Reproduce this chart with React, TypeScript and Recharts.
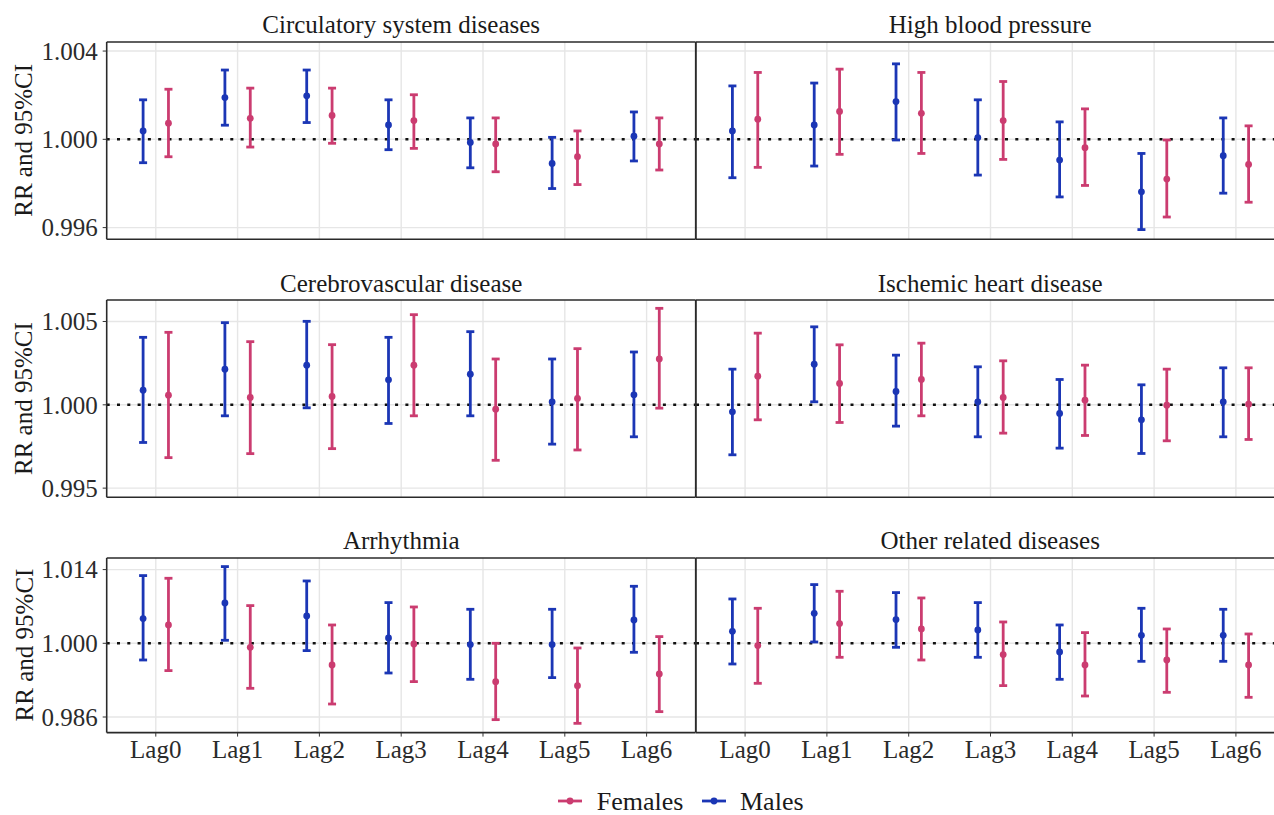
import React from 'react';
import {
  ScatterChart, Scatter, XAxis, YAxis, CartesianGrid,
  ErrorBar, ReferenceLine,
} from 'recharts';

// [RR, lower 95%CI, upper 95%CI] per lag
type Triple = [number, number, number];

const LAGS = ['Lag0', 'Lag1', 'Lag2', 'Lag3', 'Lag4', 'Lag5', 'Lag6'];

const circulatoryMales: Triple[] = [
  [1.00038, 0.99894, 1.00179],
  [1.00189, 1.00064, 1.00314],
  [1.00197, 1.00076, 1.00314],
  [1.00065, 0.99953, 1.00179],
  [0.99986, 0.99871, 1.00097],
  [0.99891, 0.99777, 1.00009],
  [1.00014, 0.99902, 1.00124],
];
const circulatoryFemales: Triple[] = [
  [1.00073, 0.99921, 1.00227],
  [1.00095, 0.99965, 1.00232],
  [1.00108, 0.99982, 1.00232],
  [1.00085, 0.99959, 1.00202],
  [0.99979, 0.99853, 1.00097],
  [0.99921, 0.99795, 1.00038],
  [0.99979, 0.99861, 1.00097],
];
const hbpMales: Triple[] = [
  [1.00038, 0.99826, 1.00242],
  [1.00065, 0.99879, 1.00255],
  [1.00171, 0.99997, 1.00342],
  [1.00008, 0.99838, 1.00179],
  [0.99906, 0.99739, 1.00079],
  [0.99762, 0.99591, 0.99936],
  [0.99926, 0.99756, 1.00097],
];
const hbpFemales: Triple[] = [
  [1.00091, 0.99873, 1.00303],
  [1.00126, 0.99932, 1.00318],
  [1.00118, 0.99936, 1.00303],
  [1.00085, 0.99909, 1.00262],
  [0.99962, 0.99791, 1.00138],
  [0.9982, 0.99648, 0.99997],
  [0.99886, 0.99715, 1.00061],
];
const cerebroMales: Triple[] = [
  [1.00088, 0.99774, 1.00405],
  [1.00214, 0.99934, 1.00493],
  [1.00238, 0.99982, 1.00501],
  [1.0015, 0.99888, 1.00405],
  [1.00184, 0.99934, 1.00439],
  [1.00018, 0.99764, 1.00275],
  [1.0006, 0.99808, 1.00317],
];
const cerebroFemales: Triple[] = [
  [1.00058, 0.99683, 1.00435],
  [1.00044, 0.99707, 1.00379],
  [1.0005, 0.99737, 1.00361],
  [1.00238, 0.99934, 1.00541],
  [0.99974, 0.99667, 1.00275],
  [1.00038, 0.99729, 1.00337],
  [1.00275, 0.9998, 1.00579],
];
const ischemicMales: Triple[] = [
  [0.99958, 0.997, 1.00214],
  [1.00244, 1.00018, 1.00468],
  [1.0008, 0.99872, 1.00298],
  [1.00018, 0.99808, 1.00228],
  [0.99948, 0.9974, 1.00152],
  [0.9991, 0.99708, 1.0012],
  [1.00018, 0.99808, 1.00222],
];
const ischemicFemales: Triple[] = [
  [1.00172, 0.9991, 1.0043],
  [1.00128, 0.99894, 1.0036],
  [1.00152, 0.99934, 1.0037],
  [1.00044, 0.9983, 1.00264],
  [1.00028, 0.99816, 1.00238],
  [0.99998, 0.99784, 1.00214],
  [1.00004, 0.99792, 1.00222],
];
const arrhythmiaMales: Triple[] = [
  [1.00469, 0.99683, 1.01286],
  [1.00766, 1.00057, 1.01457],
  [1.00519, 0.99861, 1.01184],
  [1.00101, 0.99436, 1.00773],
  [0.99975, 0.99316, 1.00646],
  [0.99975, 0.99348, 1.00646],
  [1.00443, 0.99829, 1.01083],
];
const arrhythmiaFemales: Triple[] = [
  [1.00348, 0.99481, 1.01235],
  [0.99924, 0.99145, 1.00716],
  [0.99588, 0.98847, 1.00348],
  [0.99987, 0.99272, 1.0069],
  [0.99272, 0.9855, 1.0],
  [0.99196, 0.9848, 0.99911],
  [0.99417, 0.98702, 1.00127],
];
const otherMales: Triple[] = [
  [1.00228, 0.99607, 1.00842],
  [1.0057, 1.00025, 1.01115],
  [1.0045, 0.99924, 1.00963],
  [1.00253, 0.99734, 1.00773],
  [0.99835, 0.99316, 1.00348],
  [1.00152, 0.99658, 1.00665],
  [1.00152, 0.99658, 1.00646],
];
const otherFemales: Triple[] = [
  [0.99956, 0.9924, 1.00665],
  [1.00374, 0.99734, 1.00988],
  [1.00272, 0.99683, 1.00861],
  [0.99785, 0.99196, 1.00405],
  [0.99588, 0.98999, 1.00203],
  [0.99683, 0.99069, 1.00272],
  [0.99588, 0.98974, 1.00177],
];

const rowTicks = [
  [0.996, 1.0, 1.004],
  [0.995, 1.0, 1.005],
  [0.986, 1.0, 1.014],
];
const rowDomains: [number, number][] = [
  [0.99547, 1.00441],
  [0.99445, 1.00629],
  [0.98304, 1.0162],
];

const MALE = '#1b36b5';
const FEMALE = '#cb3c70';
const FONT = 'Liberation Serif, Times New Roman, Times, serif';

// layout (page pixels)
const PAGE_W = 1274;
const PLOT_LEFT = 106.7;
const PANEL_W = 589;
const ROW_TOP = [41.7, 300, 557.7];
const ROW_H = [197.3, 197.3, 174.6];
const X_AXIS_H = 44;
const PAD = 16; // room for the end tick labels
const DODGE = 0.155;

const panels = [
  { title: 'Circulatory system diseases', row: 0, col: 0, males: circulatoryMales, females: circulatoryFemales },
  { title: 'High blood pressure', row: 0, col: 1, males: hbpMales, females: hbpFemales },
  { title: 'Cerebrovascular disease', row: 1, col: 0, males: cerebroMales, females: cerebroFemales },
  { title: 'Ischemic heart disease', row: 1, col: 1, males: ischemicMales, females: ischemicFemales },
  { title: 'Arrhythmia', row: 2, col: 0, males: arrhythmiaMales, females: arrhythmiaFemales },
  { title: 'Other related diseases', row: 2, col: 1, males: otherMales, females: otherFemales },
];

const toPoints = (rows: Triple[], shift: number) =>
  rows.map((r, i) => ({ x: i + shift, y: r[0], err: [r[0] - r[1], r[2] - r[0]] }));

const dot = (color: string) => (p: any) => <circle cx={p.cx} cy={p.cy} r={3.4} fill={color} />;

function Panel({ p }: { p: typeof panels[number] }) {
  const showY = p.col === 0;
  const showX = p.row === 2;
  const domain = rowDomains[p.row];
  const ticks = rowTicks[p.row];
  const left = showY ? 0 : PLOT_LEFT + PANEL_W;
  const width = (showY ? PLOT_LEFT : 0) + PANEL_W;
  const height = ROW_H[p.row] + (showX ? X_AXIS_H : PAD) + PAD;
  const tickStyle = { fontSize: 25, fill: '#2b2b2b', fontFamily: FONT, style: { fontFamily: FONT } };
  const border = { stroke: '#2a2a2a', strokeWidth: 1.6 };
  return (
    <div
      style={{
        position: 'absolute',
        left,
        top: ROW_TOP[p.row] - PAD,
        width: Math.min(width, PAGE_W - left),
        height,
        overflow: 'hidden',
        fontFamily: FONT,
      }}
    >
      <ScatterChart
        width={width}
        height={height}
        margin={{ top: PAD, right: 0, bottom: showX ? 0 : PAD, left: 0 }}
        style={{ fontFamily: FONT }}
      >
        <CartesianGrid
          stroke="#e6e6e6"
          strokeWidth={1.4}
          horizontalValues={ticks}
          verticalValues={[0, 1, 2, 3, 4, 5, 6]}
        />
        <XAxis
          type="number"
          dataKey="x"
          domain={[-0.6, 6.6]}
          ticks={[0, 1, 2, 3, 4, 5, 6]}
          interval={0}
          tickFormatter={(v) => LAGS[v]}
          allowDataOverflow
          hide={!showX}
          height={showX ? X_AXIS_H : 0}
          axisLine={false}
          tickSize={4}
          tickMargin={4}
          tickLine={{ stroke: '#333' }}
          tick={tickStyle}
        />
        <YAxis
          type="number"
          dataKey="y"
          domain={domain}
          ticks={ticks}
          interval={0}
          allowDataOverflow
          hide={!showY}
          width={showY ? PLOT_LEFT : 0}
          axisLine={false}
          tickSize={4}
          tickMargin={5}
          tickLine={{ stroke: '#333' }}
          tickFormatter={(v) => v.toFixed(3)}
          tick={tickStyle}
        />
        <ReferenceLine y={1} stroke="#111" strokeWidth={2.6} strokeDasharray="3 7.3" />
        <Scatter data={toPoints(p.males, -DODGE)} fill={MALE} shape={dot(MALE)} isAnimationActive={false}>
          <ErrorBar dataKey="err" direction="y" width={4} stroke={MALE} strokeWidth={2.8} />
        </Scatter>
        <Scatter data={toPoints(p.females, DODGE)} fill={FEMALE} shape={dot(FEMALE)} isAnimationActive={false}>
          <ErrorBar dataKey="err" direction="y" width={4} stroke={FEMALE} strokeWidth={2.8} />
        </Scatter>
        {/* panel frame; the right panel's right edge lies outside the cropped figure */}
        <ReferenceLine x={-0.6} {...border} />
        <ReferenceLine y={domain[0]} {...border} />
        <ReferenceLine y={domain[1]} {...border} />
        {showY && <ReferenceLine x={6.6} {...border} />}
      </ScatterChart>
    </div>
  );
}

export default function App() {
  const textProps = { fontFamily: FONT, style: { fontFamily: FONT }, fill: '#1a1a1a' };
  return (
    <div style={{ position: 'absolute', left: 0, top: 0, width: PAGE_W, height: 815, overflow: 'hidden', background: '#fff', fontFamily: FONT }}>
      {panels.map((p) => (
        <Panel key={p.title} p={p} />
      ))}
      <svg width={PAGE_W} height={815} style={{ position: 'absolute', left: 0, top: 0, pointerEvents: 'none' }}>
        {panels.map((p) => (
          <text
            key={p.title}
            x={(p.col === 0 ? PLOT_LEFT : PLOT_LEFT + PANEL_W) + PANEL_W / 2}
            y={ROW_TOP[p.row] - 8.5}
            textAnchor="middle"
            fontSize={25}
            {...textProps}
          >
            {p.title}
          </text>
        ))}
        {ROW_TOP.map((top, r) => {
          const cy = top + ROW_H[r] / 2;
          return (
            <text
              key={r}
              x={32.5}
              y={cy}
              transform={`rotate(-90, 32.5, ${cy})`}
              textAnchor="middle"
              fontSize={25}
              {...textProps}
            >
              RR and 95%CI
            </text>
          );
        })}
        <g>
          <line x1={558} x2={582} y1={801} y2={801} stroke={FEMALE} strokeWidth={2.8} />
          <circle cx={570} cy={801} r={3.4} fill={FEMALE} />
          <text x={596.7} y={810} fontSize={26} {...textProps}>Females</text>
          <line x1={702} x2={726} y1={801} y2={801} stroke={MALE} strokeWidth={2.8} />
          <circle cx={714} cy={801} r={3.4} fill={MALE} />
          <text x={740} y={810} fontSize={26} {...textProps}>Males</text>
        </g>
      </svg>
    </div>
  );
}
